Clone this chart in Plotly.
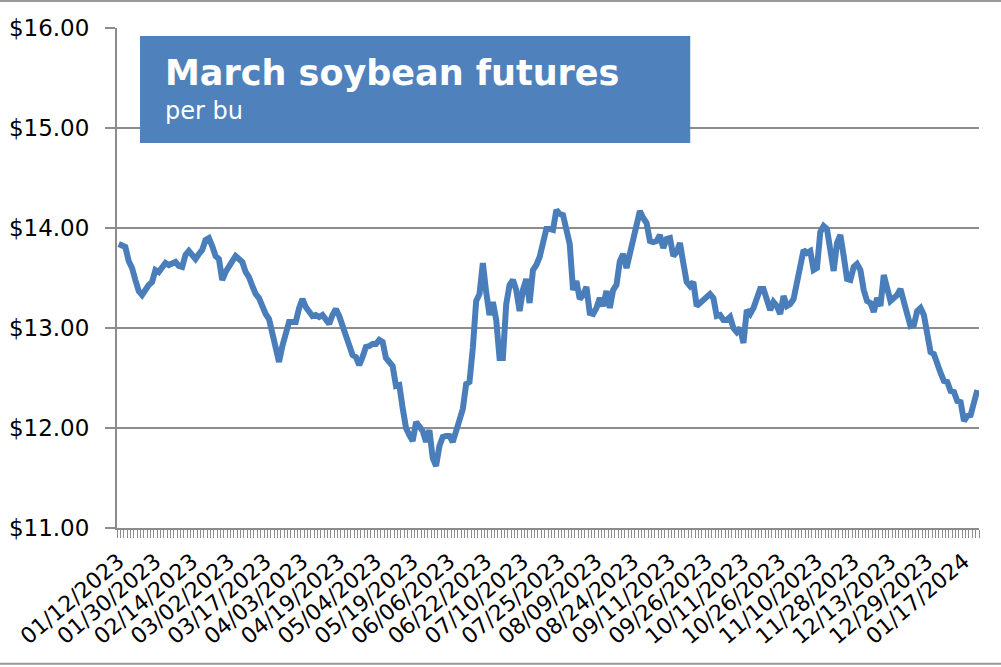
import pandas as pd
import plotly.graph_objects as go

# daily settle, March soybean futures ($/bu)
prices = [
    13.84, 13.83, 13.81, 13.67, 13.60, 13.48, 13.37, 13.33, 13.39, 13.43,
    13.46, 13.58, 13.56, 13.60, 13.65, 13.63, 13.64, 13.66, 13.62, 13.61,
    13.73, 13.77, 13.73, 13.69, 13.74, 13.78, 13.88, 13.90, 13.82, 13.72,
    13.69, 13.48, 13.56, 13.62, 13.68, 13.72, 13.69, 13.66, 13.56, 13.51,
    13.42, 13.34, 13.30, 13.21, 13.14, 13.09, 12.95, 12.78, 12.66, 12.82,
    12.96, 13.06, 13.06, 13.06, 13.20, 13.29, 13.21, 13.16, 13.12, 13.13,
    13.11, 13.13, 13.09, 13.04, 13.13, 13.19, 13.12, 13.02, 12.91, 12.80,
    12.73, 12.71, 12.63, 12.71, 12.81, 12.82, 12.84, 12.84, 12.88, 12.86,
    12.70, 12.66, 12.62, 12.42, 12.43, 12.20, 12.00, 11.93, 11.87, 12.06,
    12.01, 11.97, 11.86, 11.98, 11.70, 11.62, 11.82, 11.91, 11.92, 11.92,
    11.86, 11.99, 12.12, 12.19, 12.44, 12.46, 12.80, 13.27, 13.34, 13.65,
    13.36, 13.13, 13.26, 13.08, 12.70, 12.70, 13.24, 13.43, 13.48, 13.38,
    13.17, 13.38, 13.49, 13.25, 13.58, 13.63, 13.71, 13.83, 13.99, 13.99,
    13.98, 14.18, 14.14, 14.13, 13.98, 13.84, 13.38, 13.47, 13.29, 13.33,
    13.41, 13.15, 13.14, 13.20, 13.30, 13.22, 13.37, 13.20, 13.38, 13.43,
    13.67, 13.74, 13.60, 13.75, 13.90, 14.03, 14.17, 14.10, 14.05, 13.87,
    13.86, 13.87, 13.93, 13.80, 13.89, 13.90, 13.72, 13.76, 13.85, 13.65,
    13.46, 13.42, 13.46, 13.22, 13.25, 13.29, 13.32, 13.34, 13.30, 13.12,
    13.13, 13.08, 13.08, 13.11, 13.00, 12.96, 13.00, 12.85, 13.18, 13.14,
    13.20, 13.30, 13.39, 13.39, 13.28, 13.18, 13.26, 13.22, 13.14, 13.32,
    13.22, 13.24, 13.29, 13.45, 13.64, 13.78, 13.75, 13.77, 13.58, 13.60,
    13.96, 14.02, 13.99, 13.79, 13.57, 13.85, 13.93, 13.72, 13.49, 13.48,
    13.61, 13.64, 13.58, 13.38, 13.27, 13.25, 13.16, 13.30, 13.22, 13.53,
    13.42, 13.27, 13.30, 13.33, 13.39, 13.24, 13.14, 13.02, 13.03, 13.17,
    13.20, 13.13, 12.97, 12.76, 12.74, 12.63, 12.55, 12.47, 12.46, 12.37,
    12.36, 12.27, 12.26, 12.07, 12.12, 12.13, 12.24, 12.38,
]

# exchange holidays inside the period
holidays = [
    "2023-01-16", "2023-02-20", "2023-04-07", "2023-05-29", "2023-06-19",
    "2023-07-04", "2023-09-04", "2023-11-23", "2023-12-25", "2024-01-01",
    "2024-01-15",
]

tick_labels = [
    "01/12/2023", "01/30/2023", "02/14/2023", "03/02/2023", "03/17/2023",
    "04/03/2023", "04/19/2023", "05/04/2023", "05/19/2023", "06/06/2023",
    "06/22/2023", "07/10/2023", "07/25/2023", "08/09/2023", "08/24/2023",
    "09/11/2023", "09/26/2023", "10/11/2023", "10/26/2023", "11/10/2023",
    "11/28/2023", "12/13/2023", "12/29/2023", "01/17/2024",
]

title = "March soybean futures"
subtitle = "per bu"

dates = pd.bdate_range("2023-01-12", periods=len(prices), freq="C",
                       holidays=holidays).strftime("%m/%d/%Y").tolist()
ticktext = [d if d in tick_labels else "" for d in dates]

grey = "#8c8c8c"
blue = "#4a7ebb"

fig = go.Figure()
fig.add_trace(go.Scatter(x=dates, y=prices, mode="lines",
                         line=dict(color=blue, width=6), hoverinfo="skip"))

fig.update_layout(
    width=1001, height=667,
    margin=dict(l=117, r=22, t=28, b=139, autoexpand=False),
    paper_bgcolor="white", plot_bgcolor="white",
    showlegend=False,
    font=dict(family="DejaVu Sans", color="black"),
)

fig.update_xaxes(
    type="category", automargin=False,
    tickmode="array", tickvals=dates, ticktext=ticktext,
    tickson="boundaries", ticks="outside", ticklen=8, tickwidth=1,
    tickcolor=grey, tickangle=-40,
    tickfont=dict(size=22), ticklabelstandoff=10,
    showgrid=False, showline=True, linecolor=grey, linewidth=2,
    range=[-0.5, len(dates) - 0.5],
)

fig.update_yaxes(
    range=[11, 16], dtick=1, tickformat="$.2f", automargin=False,
    ticks="outside", ticklen=10, tickwidth=2, tickcolor=grey,
    tickfont=dict(size=23),
    showgrid=True, gridcolor=grey, gridwidth=2,
    showline=True, linecolor=grey, linewidth=2,
    zeroline=False, ticklabelstandoff=11,
)

# title box
fig.add_shape(type="rect", xref="paper", yref="paper",
              x0=0.0267, x1=0.665, y0=0.770, y1=0.984,
              fillcolor="#4f81bd", line=dict(width=0), layer="above")
fig.add_annotation(text="<b>" + title + "</b>", xref="paper", yref="paper",
                   x=0.0534, y=0.910, xanchor="left", yanchor="middle",
                   showarrow=False, font=dict(size=35, color="white"))
fig.add_annotation(text=subtitle, xref="paper", yref="paper",
                   x=0.0534, y=0.834, xanchor="left", yanchor="middle",
                   showarrow=False, font=dict(size=24, color="white"))

# chart-area border lines at top and bottom of the picture
for yy in (1.054, -0.2715):
    fig.add_shape(type="line", xref="paper", yref="paper",
                  x0=-0.14, x1=1.03, y0=yy, y1=yy,
                  line=dict(color="#999999", width=2))

# page has a default body margin; drop it so the chart sits at 0,0
fig.write_html("out.html", config={"displayModeBar": False},
               post_script="document.body.style.margin='0';")
